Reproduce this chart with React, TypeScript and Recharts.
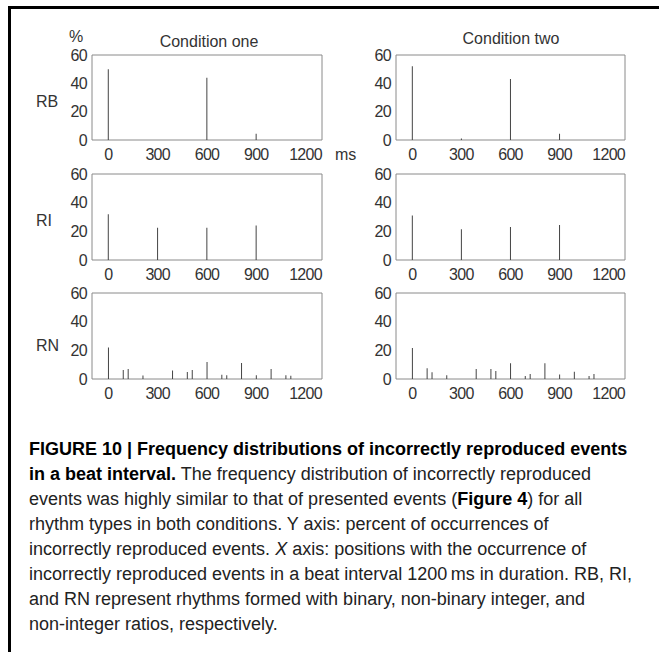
import React from 'react';
import { BarChart, Bar, XAxis, YAxis, ReferenceArea } from 'recharts';

const xTicks = [0, 300, 600, 900, 1200];
const yTicks = [0, 20, 40, 60];

const rbOnePos = [0, 600, 900];
const rbOneVal = [50, 44, 4.5];
const rbTwoPos = [0, 300, 600, 900];
const rbTwoVal = [52, 1, 43, 4.5];

const riPos = [0, 300, 600, 900];
const riOneVal = [32, 22.5, 22.5, 24];
const riTwoVal = [31, 21.5, 23, 24.5];

const rnPos = [0, 90, 120, 210, 390, 480, 510, 600, 690, 720, 810, 900, 990, 1080, 1110];
const rnOneVal = [22, 6.2, 6.9, 2.5, 6, 4.8, 6.3, 11.9, 2.9, 2.7, 11.1, 2.6, 7, 2.7, 2.2];
const rnTwoVal = [21.7, 7.5, 4.7, 2.6, 7, 7, 5.6, 11, 2.1, 3.5, 11, 3.2, 5.1, 2.1, 3.5];

const FONT = '"Liberation Sans", Arial, Helvetica, sans-serif';
const tickStyle = { fill: '#333', fontSize: 16, fontFamily: FONT, letterSpacing: -0.7 };

interface PanelProps {
  pos: number[];
  vals: number[];
  left: number;
  top: number;
  w: number;
  h: number;
}

const Panel: React.FC<PanelProps> = ({ pos, vals, left, top, w, h }) => {
  const data = pos.map((p, i) => ({ t: p, pct: vals[i] }));
  const yw = 45;
  return (
    <div style={{ position: 'absolute', left: left - yw, top: top - 8 }}>
      <BarChart width={yw + w + 8} height={h + 8 + 30} data={data} margin={{ top: 8, right: 8, bottom: 0, left: 0 }}>
        <XAxis
          dataKey="t"
          type="number"
          domain={[-100, 1300]}
          ticks={xTicks}
          allowDataOverflow
          axisLine={false}
          tickLine={false}
          tickSize={6}
          tickMargin={3}
          height={30}
          tick={tickStyle}
          interval={0}
        />
        <YAxis
          domain={[0, 60]}
          ticks={yTicks}
          axisLine={false}
          tickLine={false}
          tickSize={3}
          tickMargin={2}
          width={yw}
          tick={tickStyle}
          interval={0}
        />
        <ReferenceArea x1={-100} x2={1300} y1={0} y2={60} fill="none" stroke="#8a8a8a" strokeWidth={1} />
        <Bar dataKey="pct" fill="#444" barSize={1} isAnimationActive={false} />
      </BarChart>
    </div>
  );
};

const label = (text: string, x: number, y: number, extra: React.CSSProperties = {}) => (
  <div
    style={{
      position: 'absolute',
      left: x,
      top: y,
      transform: 'translateY(-50%)',
      fontFamily: FONT,
      fontSize: 16,
      color: '#333',
      whiteSpace: 'nowrap',
      lineHeight: 1,
      ...extra,
    }}
  >
    {text}
  </div>
);

const captionFont = '"Liberation Sans Narrow", "Arial Narrow", "Liberation Sans", Arial, sans-serif';

export default function App() {
  const L = 92;
  const R = 396;
  return (
    <div style={{ position: 'absolute', left: 0, top: 0, width: 659, height: 652, background: '#fff', overflow: 'hidden' }}>
      <div style={{ position: 'absolute', left: 8, top: 6, width: 700, height: 700, borderTop: '3px solid #000', borderLeft: '3px solid #000' }} />

      {label('%', 69, 37)}
      {label('Condition one', 209, 42, { transform: 'translate(-50%, -50%)' })}
      {label('Condition two', 511, 39, { transform: 'translate(-50%, -50%)' })}
      {label('RB', 36, 102)}
      {label('RI', 36, 221)}
      {label('RN', 36, 346)}
      {label('ms', 335, 155)}

      <Panel pos={rbOnePos} vals={rbOneVal} left={L} top={55} w={230} h={85} />
      <Panel pos={rbTwoPos} vals={rbTwoVal} left={R} top={55} w={229} h={85} />
      <Panel pos={riPos} vals={riOneVal} left={L} top={174} w={230} h={86} />
      <Panel pos={riPos} vals={riTwoVal} left={R} top={174} w={229} h={86} />
      <Panel pos={rnPos} vals={rnOneVal} left={L} top={293} w={230} h={86} />
      <Panel pos={rnPos} vals={rnTwoVal} left={R} top={293} w={229} h={86} />

      <div style={{ position: 'absolute', left: 29, top: 437, fontFamily: captionFont, fontSize: 18, lineHeight: '25px', color: '#222', whiteSpace: 'nowrap' }}>
        <div><b style={{ color: '#000' }}>FIGURE 10 | Frequency distributions of incorrectly reproduced events</b></div>
        <div><b style={{ color: '#000' }}>in a beat interval.</b> The frequency distribution of incorrectly reproduced</div>
        <div>events was highly similar to that of presented events (<b style={{ color: '#000' }}>Figure 4</b>) for all</div>
        <div>rhythm types in both conditions. Y axis: percent of occurrences of</div>
        <div>incorrectly reproduced events. <i>X</i> axis: positions with the occurrence of</div>
        <div>incorrectly reproduced events in a beat interval 1200&#8201;ms in duration. RB, RI,</div>
        <div>and RN represent rhythms formed with binary, non-binary integer, and</div>
        <div>non-integer ratios, respectively.</div>
      </div>
    </div>
  );
}
